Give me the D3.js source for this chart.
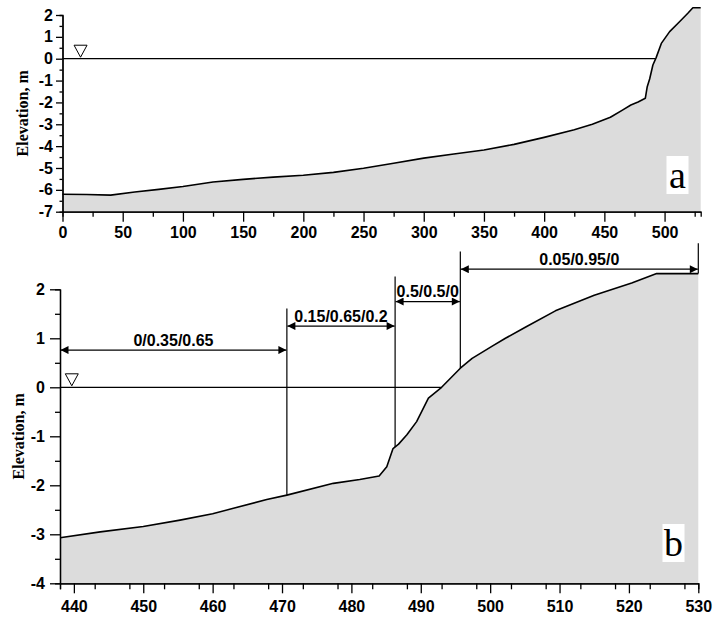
<!DOCTYPE html>
<html>
<head>
<meta charset="utf-8">
<script src="https://cdnjs.cloudflare.com/ajax/libs/d3/7.8.5/d3.min.js"></script>
<style>
body { margin: 0; background: #fff; }
svg text { fill: #000; }
</style>
</head>
<body>
<div id="chart"></div>
<script>
// full cross-shore profile (panel a)
var distA = [0, 20, 40, 60, 80, 100, 125, 150, 175, 200, 225, 250, 275, 300, 325, 350, 375, 400,
	425, 440, 455, 465, 472, 478, 484, 485.6, 487.6, 490.3, 493, 497.3, 504.2, 512.4, 519.3, 523.5, 530]
var elevA = [-6.2, -6.21, -6.24, -6.1, -5.98, -5.85, -5.64, -5.52, -5.42, -5.33, -5.2, -5.01, -4.78, -4.55, -4.36, -4.18, -3.92, -3.6,
	-3.25, -3.0, -2.68, -2.35, -2.12, -1.98, -1.81, -1.28, -0.93, -0.29, 0.05, 0.7, 1.24, 1.69, 2.08, 2.33, 2.33]

// nearshore detail (panel b)
var distB = [438, 443.8, 450, 455.3, 460, 463, 467.8, 470.7, 477.4, 481.2, 484, 485.1, 486, 486.8, 488, 489.4,
	491.1, 493, 495.7, 497.4, 500.3, 502.2, 505, 509.4, 515, 520.4, 524, 530]
var elevB = [-3.07, -2.95, -2.84, -2.71, -2.58, -2.47, -2.29, -2.2, -1.96, -1.88, -1.81, -1.62, -1.25, -1.16, -0.97, -0.7,
	-0.22, 0, 0.39, 0.59, 0.84, 1.0, 1.22, 1.56, 1.88, 2.13, 2.32, 2.32]

var ticksXA = [0, 50, 100, 150, 200, 250, 300, 350, 400, 450, 500],
	ticksYA = [-7, -6, -5, -4, -3, -2, -1, 0, 1, 2],
	ticksXB = [440, 450, 460, 470, 480, 490, 500, 510, 520, 530],
	ticksYB = [-4, -3, -2, -1, 0, 1, 2]

// zone boundaries and the fractions written over each zone
var zoneEdges  = [438, 470.7, 486.3, 495.7, 530],
	edgeTops   = [null, 1.61, 2.26, 2.77, 2.94],
	zoneLabels = ["0/0.35/0.65", "0.15/0.65/0.2", "0.5/0.5/0", "0.05/0.95/0"],
	zoneLevels = [0.76, 1.25, 1.75, 2.41]

var waterLevel = 0,
	shoreA = 492.5,
	shoreB = 493

var W = 715, H = 618,
	cFill = "#dcdcdc",
	tickFont = "Liberation Sans, Arial, sans-serif"

var svg = d3.select("#chart")
			.append("svg")
			.attr("width", W)
			.attr("height", H)

svg.append("defs").append("marker")
	.attr("id", "arrow")
	.attr("viewBox", "0 0 10 10")
	.attr("refX", 10)
	.attr("refY", 5)
	.attr("markerUnits", "userSpaceOnUse")
	.attr("markerWidth", 9)
	.attr("markerHeight", 8)
	.attr("orient", "auto-start-reverse")
	.append("path")
	.attr("d", "M0,0 L10,5 L0,10 Z")
	.attr("fill", "#000")

var plainNum = function(d){ return String(d) } // hyphen minus, no decimals

function drawPanel(p){
	var g = svg.append("g")
	var x = d3.scaleLinear().domain(p.xDomain).range([p.left, p.right])
	var y = d3.scaleLinear().domain(p.yDomain).range([p.bottom, p.top])
	var pts = d3.zip(p.dist, p.elev)

	g.append("path")
		.datum(pts)
		.attr("fill", cFill)
		.attr("d", d3.area()
			.x(function(d){ return x(d[0]) })
			.y0(y(p.yDomain[0]))
			.y1(function(d){ return y(d[1]) }))

	// still water line up to the shoreline
	g.append("line")
		.attr("x1", x(p.xDomain[0])).attr("x2", x(p.shore))
		.attr("y1", y(waterLevel)).attr("y2", y(waterLevel))
		.attr("stroke", "#000").attr("stroke-width", 1.3)

	g.append("path")
		.datum(pts)
		.attr("fill", "none")
		.attr("stroke", "#000")
		.attr("stroke-width", 1.6)
		.attr("stroke-linejoin", "round")
		.attr("d", d3.line()
			.x(function(d){ return x(d[0]) })
			.y(function(d){ return y(d[1]) }))

	// water level symbol
	var tx = x(p.markX), ty = y(waterLevel)
	g.append("path")
		.attr("d", "M" + (tx - 6.5) + "," + (ty - 13.5) + " L" + (tx + 6.5) + "," + (ty - 13.5) + " L" + tx + "," + (ty - 1.5) + " Z")
		.attr("fill", "#fff")
		.attr("stroke", "#000")
		.attr("stroke-width", 1)

	// minor + major ticks
	var minorX = d3.range(p.xDomain[0], p.xDomain[1] + 0.01, p.xMinor).filter(function(v){ return p.xTicks.indexOf(v) < 0 })
	var minorY = d3.range(p.yDomain[0], p.yDomain[1] + 0.01, 0.5).filter(function(v){ return p.yTicks.indexOf(v) < 0 })

	g.append("g")
		.attr("transform", "translate(0," + p.bottom + ")")
		.call(d3.axisBottom(x).tickValues(minorX).tickSize(p.xMinorLen).tickFormat(""))
	g.append("g")
		.attr("transform", "translate(" + p.left + ",0)")
		.call(d3.axisLeft(y).tickValues(minorY).tickSize(p.yMinorLen).tickFormat(""))

	g.append("g")
		.attr("transform", "translate(0," + p.bottom + ")")
		.call(d3.axisBottom(x).tickValues(p.xTicks).tickSize(10).tickSizeOuter(0).tickPadding(p.xPad).tickFormat(plainNum))
	g.append("g")
		.attr("transform", "translate(" + p.left + ",0)")
		.call(d3.axisLeft(y).tickValues(p.yTicks).tickSize(p.yMajorLen).tickSizeOuter(0).tickPadding(p.yPad).tickFormat(plainNum))

	g.selectAll(".domain, .tick line").attr("stroke", "#000").attr("stroke-width", 1.3)
	g.selectAll(".tick text")
		.attr("font-family", tickFont)
		.attr("font-weight", "bold")
		.attr("font-size", 16)
		.attr("fill", "#000")

	g.append("text")
		.attr("transform", "translate(" + p.labelX + "," + (p.top + p.bottom) / 2 + ") rotate(-90)")
		.attr("dy", "0.35em")
		.attr("text-anchor", "middle")
		.attr("font-family", "Liberation Serif, Times New Roman, serif")
		.attr("font-weight", "bold")
		.attr("font-size", 16)
		.text("Elevation, m")

	// panel letter on a white patch
	g.append("rect")
		.attr("x", p.letterX - 11).attr("y", p.letterY - 32)
		.attr("width", 22).attr("height", 38)
		.attr("fill", "#fff")
	g.append("text")
		.attr("x", p.letterX)
		.attr("y", p.letterY)
		.attr("text-anchor", "middle")
		.attr("font-family", "Liberation Serif, Times New Roman, serif")
		.attr("font-size", 38)
		.text(p.letter)

	return {x: x, y: y, g: g, pts: pts}
}

var a = drawPanel({
	dist: distA, elev: elevA, xDomain: [0, 530], yDomain: [-7, 2],
	left: 62.5, right: 700.7, top: 15, bottom: 211.7,
	xTicks: ticksXA, yTicks: ticksYA, xMinor: 25,
	xMinorLen: 5, yMinorLen: 3, yMajorLen: 6.5, xPad: 5, yPad: 3,
	shore: shoreA, markX: 15, labelX: 22, letter: "a", letterX: 677.5, letterY: 188
})

var b = drawPanel({
	dist: distB, elev: elevB, xDomain: [438, 530], yDomain: [-4, 2],
	left: 60, right: 698.3, top: 289.3, bottom: 583.3,
	xTicks: ticksXB, yTicks: ticksYB, xMinor: 5,
	xMinorLen: 6, yMinorLen: 5, yMajorLen: 10, xPad: 7, yPad: 5,
	shore: shoreB, markX: 439.7, labelX: 18.5, letter: "b", letterX: 673.5, letterY: 556
})

// zone boundaries: vertical lines from their top down to the profile
var groundAt = function(v){
	var i = d3.bisectLeft(distB, v)
	if (i <= 0) return elevB[0]
	if (i >= distB.length) return elevB[distB.length - 1]
	var t = (v - distB[i - 1]) / (distB[i] - distB[i - 1])
	return elevB[i - 1] + t * (elevB[i] - elevB[i - 1])
}

b.g.selectAll(".zoneEdge")
	.data(zoneEdges.slice(1))
	.enter()
	.append("line")
	.attr("class", "zoneEdge")
	.attr("x1", function(d){ return b.x(d) })
	.attr("x2", function(d){ return b.x(d) })
	.attr("y1", function(d,i){ return b.y(edgeTops[i + 1]) })
	.attr("y2", function(d){ return b.y(groundAt(d)) })
	.attr("stroke", "#000")
	.attr("stroke-width", 1.2)

b.g.selectAll(".zoneArrow")
	.data(zoneLabels)
	.enter()
	.append("line")
	.attr("class", "zoneArrow")
	.attr("x1", function(d,i){ return b.x(zoneEdges[i]) + 0.5 })
	.attr("x2", function(d,i){ return b.x(zoneEdges[i + 1]) - 0.5 })
	.attr("y1", function(d,i){ return b.y(zoneLevels[i]) })
	.attr("y2", function(d,i){ return b.y(zoneLevels[i]) })
	.attr("stroke", "#000")
	.attr("stroke-width", 1.2)
	.attr("marker-start", "url(#arrow)")
	.attr("marker-end", "url(#arrow)")

b.g.selectAll(".zoneText")
	.data(zoneLabels)
	.enter()
	.append("text")
	.attr("class", "zoneText")
	.attr("x", function(d,i){ return (b.x(zoneEdges[i]) + b.x(zoneEdges[i + 1])) / 2 })
	.attr("y", function(d,i){ return b.y(zoneLevels[i]) - 4.5 })
	.attr("text-anchor", "middle")
	.attr("font-family", tickFont)
	.attr("font-weight", "bold")
	.attr("font-size", 16)
	.text(function(d){ return d })
</script>
</body>
</html>
